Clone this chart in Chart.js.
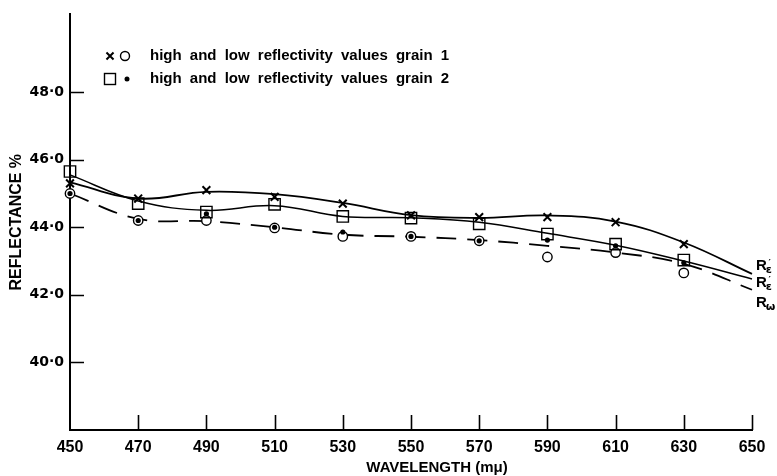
<!DOCTYPE html>
<html>
<head>
<meta charset="utf-8">
<script src="https://cdn.jsdelivr.net/npm/chart.js@4/dist/chart.umd.min.js"></script>
<style>
  html, body { margin: 0; padding: 0; background: #fff; }
  #c { display: block; }
</style>
</head>
<body>
<canvas id="c" width="777" height="476"></canvas>
<script>
// ---- data ----
const wavelengths = [450, 470, 490, 510, 530, 550, 570, 590, 610, 630];
const grain1High = [45.3, 44.85, 45.1, 44.9, 44.7, 44.35, 44.3, 44.3, 44.15, 43.5];
const grain1Low  = [45.0, 44.2, 44.2, 43.98, 43.73, 43.73, 43.6, 43.12, 43.25, 42.65];
const grain2High = [45.65, 44.7, 44.45, 44.68, 44.32, 44.27, 44.1, 43.8, 43.5, 43.03];
const grain2Low  = [45.0, 44.2, 44.4, 44.0, 43.86, 43.73, 43.6, 43.62, 43.45, 42.95];

const curveWavelengths = [450, 470, 490, 510, 530, 550, 570, 590, 610, 630, 650];
const curveReps1 = [45.33, 44.85, 45.05, 44.98, 44.72, 44.36, 44.28, 44.35, 44.17, 43.55, 42.62];
const curveReps2 = [45.55, 44.78, 44.5, 44.64, 44.32, 44.28, 44.15, 43.82, 43.47, 43.0, 42.47];
const curveRw    = [45.0, 44.25, 44.18, 44.0, 43.78, 43.72, 43.62, 43.45, 43.25, 42.92, 42.15];

const curveLabels = ['R\u03b5\u2032', 'R\u03b5\u2032', 'R\u03c9'];
const legendTexts = ['high and low reflectivity values grain 1', 'high and low reflectivity values grain 2'];

const xTicks = [450, 470, 490, 510, 530, 550, 570, 590, 610, 630, 650];
const yTicks = [40, 42, 44, 46, 48];
const yTickLabels = ['40\u00b70', '42\u00b70', '44\u00b70', '46\u00b70', '48\u00b70'];

const xTitle = 'WAVELENGTH (m\u03bc)';
const yTitle = 'REFLECTANCE %';

// ---- helpers ----
const pts = (xs, ys) => xs.map((x, i) => ({x: x, y: ys[i]}));

const insideTicks = {
  id: 'insideTicks',
  afterDraw(chart) {
    const ctx = chart.ctx, xs = chart.scales.x, ys = chart.scales.y;
    const area = chart.chartArea;
    ctx.save();
    ctx.strokeStyle = '#000';
    ctx.lineWidth = 1.6;
    ctx.beginPath();
    yTicks.forEach(v => {
      const py = Math.round(ys.getPixelForValue(v)) + 0.5;
      ctx.moveTo(area.left, py); ctx.lineTo(area.left + 14, py);
    });
    xTicks.slice(1).forEach(v => {
      const px = Math.round(xs.getPixelForValue(v)) + 0.5;
      ctx.moveTo(px, area.bottom); ctx.lineTo(px, area.bottom - 15);
    });
    ctx.stroke();
    ctx.restore();
  }
};

const annotations = {
  id: 'annotations',
  afterDraw(chart) {
    const ctx = chart.ctx, xs = chart.scales.x, ys = chart.scales.y;
    const H = Chart.helpers;
    ctx.save();
    // legend
    const rows = [56, 79];
    H.drawPoint(ctx, {pointStyle: 'crossRot', radius: 5, borderWidth: 2}, 110, rows[0]);
    ctx.strokeStyle = '#000'; ctx.fillStyle = '#fff'; ctx.lineWidth = 1.4;
    ctx.beginPath(); ctx.arc(125, rows[0], 4.5, 0, Math.PI * 2); ctx.fill(); ctx.stroke();
    ctx.strokeRect(104.5, rows[1] - 5.5, 11, 11);
    ctx.fillStyle = '#000';
    ctx.beginPath(); ctx.arc(127, rows[1], 2.5, 0, Math.PI * 2); ctx.fill();
    ctx.font = 'bold 15px "Liberation Sans", Arial, sans-serif';
    ctx.textBaseline = 'middle';
    ctx.textAlign = 'left';
    try { ctx.wordSpacing = '4px'; } catch (e) {}
    ctx.fillText(legendTexts[0], 150, rows[0]);
    ctx.fillText(legendTexts[1], 150, rows[1]);
    try { ctx.wordSpacing = '0px'; } catch (e) {}

    // curve end labels (R with subscript)
    const ends = [curveReps1, curveReps2, curveRw];
    const offs = [-9, 3, 12];
    const lx = xs.getPixelForValue(650) + 4;
    ends.forEach((arr, i) => {
      const cy = ys.getPixelForValue(arr[arr.length - 1]) + offs[i];
      const lab = curveLabels[i];
      ctx.font = 'bold 15px "Liberation Sans", Arial, sans-serif';
      ctx.textBaseline = 'alphabetic';
      ctx.fillText(lab.charAt(0), lx, cy + 5.5);
      const w = ctx.measureText('R').width;
      ctx.font = 'bold 11px "DejaVu Sans", sans-serif';
      ctx.fillText(lab.charAt(1), lx + w - 1, cy + 8);
      if (lab.length > 2) {
        const w2 = ctx.measureText(lab.charAt(1)).width;
        ctx.font = 'bold 9px "DejaVu Sans", sans-serif';
        ctx.fillText(lab.charAt(2), lx + w - 1 + w2 * 0.45, cy + 1);
      }
    });

    // x axis title
    ctx.font = 'bold 15px "Liberation Sans", Arial, sans-serif';
    ctx.textAlign = 'center';
    ctx.textBaseline = 'middle';
    ctx.fillText(xTitle, 437, 468);
    ctx.restore();
  }
};

new Chart(document.getElementById('c'), {
  data: {
    datasets: [
      { type: 'scatter', label: 'grain 2 low', data: pts(wavelengths, grain2Low), order: 1, clip: false,
        pointStyle: 'circle', pointRadius: 2.6, pointBackgroundColor: '#000', pointBorderColor: '#000', pointBorderWidth: 0 },
      { type: 'scatter', label: 'grain 1 high', data: pts(wavelengths, grain1High), order: 2, clip: false,
        pointStyle: 'crossRot', pointRadius: 5.5, pointBorderColor: '#000', pointBorderWidth: 2 },
      { type: 'scatter', label: 'grain 2 high', data: pts(wavelengths, grain2High), order: 3, clip: false,
        pointStyle: 'rect', pointRadius: 8, pointBackgroundColor: 'rgba(255,255,255,0)', pointBorderColor: '#000', pointBorderWidth: 1.4 },
      { type: 'scatter', label: 'grain 1 low', data: pts(wavelengths, grain1Low), order: 4, clip: false,
        pointStyle: 'circle', pointRadius: 4.7, pointBackgroundColor: '#fff', pointBorderColor: '#000', pointBorderWidth: 1.4 },
      { type: 'line', label: 'R\u03b5\u2032 grain 1', data: pts(curveWavelengths, curveReps1), order: 10, clip: false,
        borderColor: '#000', borderWidth: 1.8, tension: 0.4, pointRadius: 0, fill: false },
      { type: 'line', label: 'R\u03b5\u2032 grain 2', data: pts(curveWavelengths, curveReps2), order: 10, clip: false,
        borderColor: '#000', borderWidth: 1.5, tension: 0.4, pointRadius: 0, fill: false },
      { type: 'line', label: 'R\u03c9', data: pts(curveWavelengths, curveRw), order: 10, clip: false,
        borderColor: '#000', borderWidth: 1.8, borderDash: [20, 11], tension: 0.4, pointRadius: 0, fill: false }
    ]
  },
  options: {
    responsive: false,
    animation: false,
    devicePixelRatio: 1,
    layout: { padding: { top: 10, right: 25, left: 0, bottom: 0 } },
    plugins: { legend: { display: false }, tooltip: { enabled: false } },
    scales: {
      x: {
        type: 'linear', position: 'bottom', min: 450, max: 650,
        afterFit(s) { s.height = 46; },
        afterBuildTicks(s) { s.ticks = xTicks.map(v => ({value: v})); },
        grid: { drawOnChartArea: false, drawTicks: false },
        border: { display: true, color: '#000', width: 2 },
        ticks: { color: '#000', padding: 8, maxRotation: 0, autoSkip: false,
                 font: { family: '"Liberation Sans", Arial, sans-serif', size: 16, weight: 'bold' },
                 callback: (v) => String(v) }
      },
      y: {
        type: 'linear', position: 'left', min: 38, max: 50.3,
        afterFit(s) { s.width = 70; },
        afterBuildTicks(s) { s.ticks = yTicks.map(v => ({value: v})); },
        grid: { drawOnChartArea: false, drawTicks: false },
        border: { display: true, color: '#000', width: 2 },
        title: { display: true, text: yTitle, color: '#000', padding: { top: 7, bottom: 0 },
                 font: { family: '"Liberation Sans", Arial, sans-serif', size: 16, weight: 'bold', lineHeight: 1.2 } },
        ticks: { color: '#000', padding: 6, autoSkip: false,
                 font: { family: '"DejaVu Sans", sans-serif', size: 14, weight: 'bold' },
                 callback: (v, i) => yTickLabels[i] }
      }
    }
  },
  plugins: [insideTicks, annotations]
});
</script>
</body>
</html>
